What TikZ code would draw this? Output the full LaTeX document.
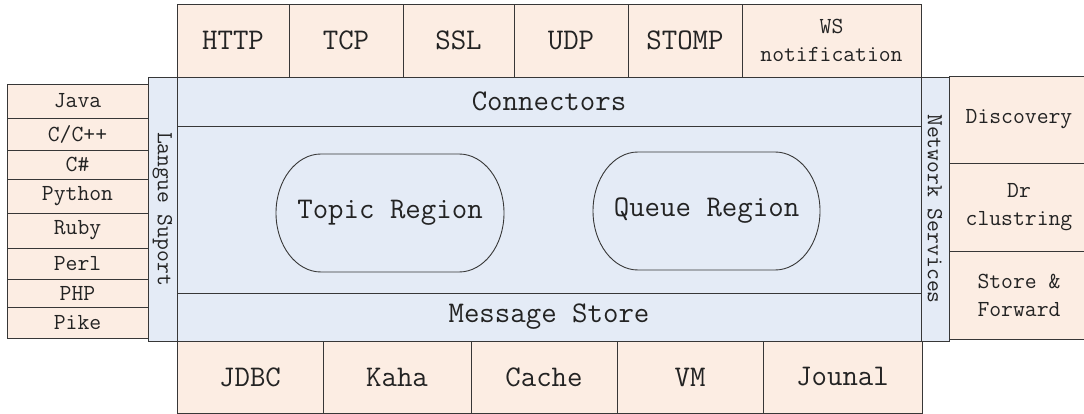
\documentclass[tikz,border=0pt]{standalone}
\definecolor{peach}{RGB}{252,237,227}
\definecolor{pale}{RGB}{228,235,246}
\definecolor{ln}{RGB}{55,55,55}
\definecolor{tx}{RGB}{35,35,35}
\tikzset{
  cell/.style={draw=ln, line width=0.9pt, inner sep=0pt, outer sep=0pt, text=tx,
    font=\ttfamily\fontsize{23}{28}\selectfont, align=center},
  tan/.style={cell, fill=peach},
  blu/.style={cell, fill=pale},
  big/.style={font=\ttfamily\fontsize{30}{34}\selectfont},
  region/.style={inner sep=0pt, outer sep=0pt, text=tx,
    font=\ttfamily\fontsize{30}{34}\selectfont},
  outline/.style={draw=ln, line width=0.9pt},
}
\newcommand{\cellat}[7]{%
  \node[#6, minimum width={#4pt-#2pt}, minimum height={#5pt-#3pt}]
    (#1) at ({(#2+#4)/2},{(#3+#5)/2}) {#7};}
\newcommand{\pillaround}[1]{%
  \draw[outline] ([xshift=45pt]#1.north west) -- ([xshift=-45pt]#1.north east)
    arc[start angle=90, end angle=-90, x radius=45pt, y radius=59pt]
    -- ([xshift=45pt]#1.south west)
    arc[start angle=270, end angle=90, x radius=45pt, y radius=59pt] -- cycle;}
\begin{document}
\begin{tikzpicture}[x=1pt,y=-1pt]
\clip (0,0) rectangle (1084,414);
\fill[white] (0,0) rectangle (1084,414);
% core
\cellat{mid}{177}{126}{921}{293}{blu}{}
\cellat{conn}{177}{77}{921}{126}{blu,big}{Connectors}
\cellat{store}{177}{293}{921}{341}{blu,big}{Message Store}
% strips
\node[blu, rotate=-90, minimum width=264pt, minimum height=29pt] (lang) at (162.5,209) {Langue Suport};
\node[blu, rotate=-90, minimum width=264pt, minimum height=28pt] (net) at (935,209) {Network Services};
% top
\cellat{http}{177}{4}{289}{77}{tan,big}{HTTP}
\cellat{tcp}{289}{4}{403}{77}{tan,big}{TCP}
\cellat{ssl}{403}{4}{514}{77}{tan,big}{SSL}
\cellat{udp}{514}{4}{628}{77}{tan,big}{UDP}
\cellat{stomp}{628}{4}{742}{77}{tan,big}{STOMP}
\cellat{ws}{742}{4}{921}{77}{tan}{WS\\notification}
% bottom
\cellat{jdbc}{177}{341}{323}{413}{tan,big}{JDBC}
\cellat{kaha}{323}{341}{471}{413}{tan,big}{Kaha}
\cellat{cache}{471}{341}{617}{413}{tan,big}{Cache}
\cellat{vm}{617}{341}{763}{413}{tan,big}{VM}
\cellat{jou}{763}{341}{922}{413}{tan,big}{Jounal}
% left
\cellat{java}{7}{84}{148}{118}{tan}{Java}
\cellat{cpp}{7}{118}{148}{150}{tan}{C/C++}
\cellat{cs}{7}{150}{148}{179}{tan}{C\#}
\cellat{py}{7}{179}{148}{213}{tan}{Python}
\cellat{rb}{7}{213}{148}{248}{tan}{Ruby}
\cellat{pl}{7}{248}{148}{279}{tan}{Perl}
\cellat{php}{7}{279}{148}{307}{tan}{PHP}
\cellat{pike}{7}{307}{148}{338}{tan}{Pike}
% right
\cellat{disc}{949}{76}{1095}{163}{tan}{\hspace*{-6pt}Discovery}
\cellat{dr}{949}{163}{1095}{251}{tan}{\hspace*{-6pt}Dr\\\hspace*{-6pt}clustring}
\cellat{sf}{949}{251}{1095}{339}{tan}{\hspace*{-6pt}Store \&\\\hspace*{-6pt}Forward}
% regions
\node[region, minimum width=228pt, minimum height=118pt] (topic) at (390,213) {Topic Region};
\pillaround{topic}
\node[region, minimum width=227pt, minimum height=118pt] (queue) at (706.5,211) {Queue Region};
\pillaround{queue}
\end{tikzpicture}
\end{document}
